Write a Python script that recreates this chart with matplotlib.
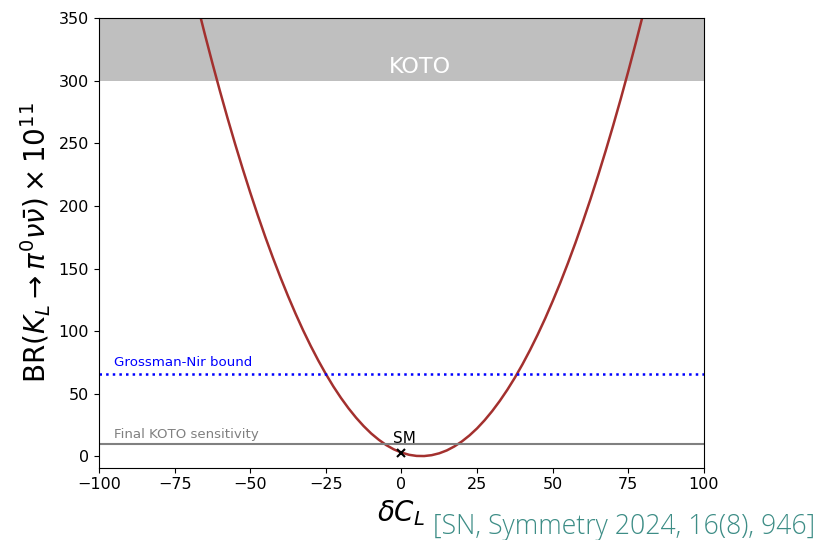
import matplotlib
matplotlib.use("Agg")
import matplotlib.pyplot as plt

# branching ratio vs. deltaC_L, in units of 1e-11
dcl = [-70, -67.5, -65, -62.5, -60, -57.5, -55, -52.5, -50, -47.5, -45, -42.5,
       -40, -37.5, -35, -32.5, -30, -27.5, -25, -22.5, -20, -17.5, -15, -12.5,
       -10, -7.5, -5, -2.5, 0, 2.5, 5, 7.5, 10, 12.5, 15, 17.5, 20, 22.5, 25,
       27.5, 30, 32.5, 35, 37.5, 40, 42.5, 45, 47.5, 50, 52.5, 55, 57.5, 60,
       62.5, 65, 67.5, 70, 72.5, 75, 77.5, 80, 82.5, 85]
br = [385.7, 360.9, 337.0, 313.9, 291.6, 270.1, 249.5, 229.7, 210.7, 192.5,
      175.1, 158.6, 142.9, 128.0, 113.9, 100.6, 88.2, 76.6, 65.8, 55.8, 46.7,
      38.4, 30.9, 24.2, 18.3, 13.3, 9.0, 5.6, 3.1, 1.3, 0.4, 0.3, 1.0, 2.5,
      4.8, 8.0, 12.0, 16.8, 22.4, 28.9, 36.2, 44.3, 53.2, 62.9, 73.5, 84.9,
      97.1, 110.1, 124.0, 138.6, 154.1, 170.4, 187.6, 205.5, 224.3, 243.9,
      264.3, 285.5, 307.6, 330.5, 354.2, 378.7, 403.8]

koto_excl = (300, 350)
gn_bound = 66
koto_final = 10
sm_point = (0, 3)

fig = plt.figure(figsize=(8.22, 5.40), dpi=100)
ax = fig.add_axes([0.1204, 0.1339, 0.7360, 0.8328])

ax.axhspan(koto_excl[0], koto_excl[1], color="gray", alpha=0.5, lw=0)
ax.text(6, 311, "KOTO", color="white", fontsize=16, ha="center", va="center")

ax.plot(dcl, br, color="#a3302e", lw=1.8)

ax.axhline(gn_bound, color="blue", ls=":", lw=1.8)
ax.text(-95, gn_bound + 4, "Grossman-Nir bound", color="blue", fontsize=9.6,
        va="bottom")

ax.axhline(koto_final, color="gray", lw=1.5)
ax.text(-95, koto_final + 2, "Final KOTO sensitivity", color="gray",
        fontsize=9.6, va="bottom")

ax.plot(*sm_point, marker="x", color="black", ms=6, mew=1.5)
ax.text(sm_point[0] + 1, sm_point[1] + 5, "SM", fontsize=11, ha="center",
        va="bottom")

ax.set_xlim(-100, 100)
ax.set_ylim(-9, 350)
ax.set_xticks([-100, -75, -50, -25, 0, 25, 50, 75, 100])
ax.set_yticks([0, 50, 100, 150, 200, 250, 300, 350])
ax.tick_params(labelsize=11.5)

ax.set_xlabel(r"$\delta C_L$", fontsize=20, labelpad=4)
ax.set_ylabel(r"BR$(K_L \to \pi^0 \nu\bar{\nu}) \times 10^{11}$", fontsize=20)

fig.text(0.5267, 0.011, "[SN, Symmetry 2024, 16(8), 946]", color="#3d8d86",
         fontsize=19.2, family="Open Sans", weight="light", ha="left",
         va="baseline")

fig.savefig("out.png", dpi=100)
